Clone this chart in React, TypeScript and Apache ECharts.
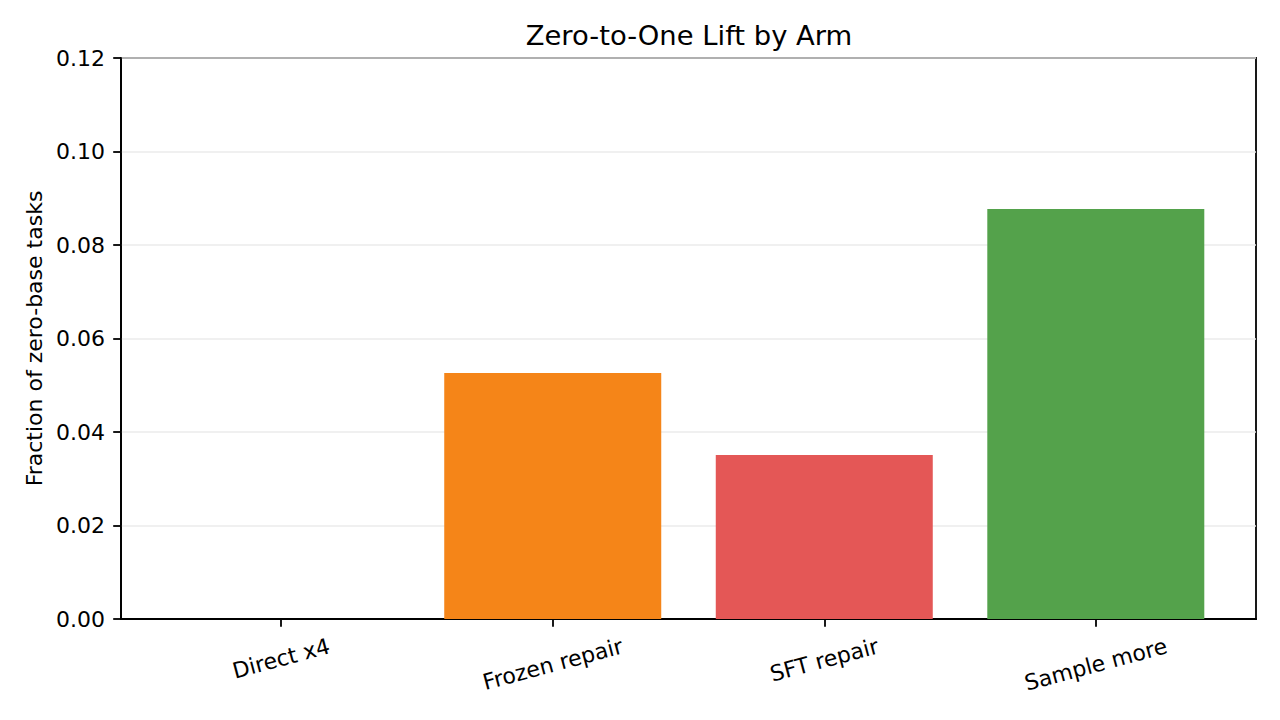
import { useEffect, useRef } from 'react'
import * as echarts from 'echarts'

const arms = ['Direct x4', 'Frozen repair', 'SFT repair', 'Sample more']
const lift = [0, 0.0526, 0.0351, 0.0877]
const armColors = ['#4C78A8', '#F58518', '#E45756', '#54A24B']
const yTicks = [0, 0.02, 0.04, 0.06, 0.08, 0.1, 0.12]

const FONT = 'DejaVu Sans, sans-serif'
const FS = 22
const ROT = 15

// matplotlib puts the top of the rotated label's bounding box under the tick;
// shift each label straight down by half of that box height via padding
function labelRich() {
  const ctx = document.createElement('canvas').getContext('2d')!
  ctx.font = `${FS}px DejaVu Sans`
  const a = (ROT * Math.PI) / 180
  const rich: Record<string, any> = {}
  arms.forEach((name, i) => {
    const w = ctx.measureText(name).width
    const d = (w * Math.sin(a) + FS * Math.cos(a)) / 2
    rich['l' + i] = {
      fontFamily: FONT, fontSize: FS, color: '#000',
      padding: [2 * d * Math.cos(a), 2 * d * Math.sin(a), 0, 0],
    }
  })
  return rich
}

export default function App() {
  const ref = useRef<HTMLDivElement>(null)

  useEffect(() => {
    document.body.style.margin = '0'
    if (!ref.current) return
    const chart = echarts.init(ref.current, null, { renderer: 'svg' })
    chart.setOption({
      animation: false,
      backgroundColor: '#ffffff',
      textStyle: { fontFamily: FONT, color: '#000' },
      title: {
        text: 'Zero-to-One Lift by Arm',
        left: 684,
        top: 17,
        textAlign: 'center',
        textStyle: { fontFamily: FONT, fontSize: 27.4, fontWeight: 'normal', color: '#000' },
      },
      grid: {
        left: 121, right: 24, top: 58, bottom: 101,
        show: true, borderColor: '#000', borderWidth: 1.8, backgroundColor: 'transparent',
      },
      xAxis: {
        type: 'value',
        min: -0.59,
        max: 3.59,
        splitLine: { show: false },
        axisLine: { show: true, lineStyle: { color: '#000', width: 1.8 } },
        axisTick: { show: true, length: 7.8, customValues: [0, 1, 2, 3], lineStyle: { color: '#000', width: 1.8 } },
        axisLabel: {
          customValues: [0, 1, 2, 3],
          formatter: (v: number) => {
            const i = Math.round(v)
            return arms[i] ? `{l${i}|${arms[i]}}` : ''
          },
          rotate: ROT,
          align: 'center',
          verticalAlign: 'middle',
          margin: 16,
          fontFamily: FONT,
          fontSize: FS,
          color: '#000',
          rich: labelRich(),
        },
      },
      yAxis: {
        type: 'value',
        min: yTicks[0],
        max: yTicks[yTicks.length - 1],
        interval: 0.02,
        name: 'Fraction of zero-base tasks',
        nameLocation: 'middle',
        nameRotate: 90,
        nameGap: 75,
        nameTextStyle: { fontFamily: FONT, fontSize: FS, color: '#000' },
        axisLine: { show: true, onZero: false, lineStyle: { color: '#000', width: 1.8 } },
        axisTick: { show: true, length: 7.8, lineStyle: { color: '#000', width: 1.8 } },
        axisLabel: {
          formatter: (v: number) => v.toFixed(2),
          margin: 16,
          fontFamily: FONT,
          fontSize: FS,
          color: '#000',
        },
        splitLine: { show: true, lineStyle: { color: '#ebebeb', width: 1.5 } },
      },
      series: [
        {
          type: 'bar',
          barWidth: 217,
          data: lift.map((v, i) => ({ value: [i, v], itemStyle: { color: armColors[i] } })),
        },
      ],
    })
    return () => chart.dispose()
  }, [])

  return <div ref={ref} style={{ width: 1280, height: 720 }} />
}
